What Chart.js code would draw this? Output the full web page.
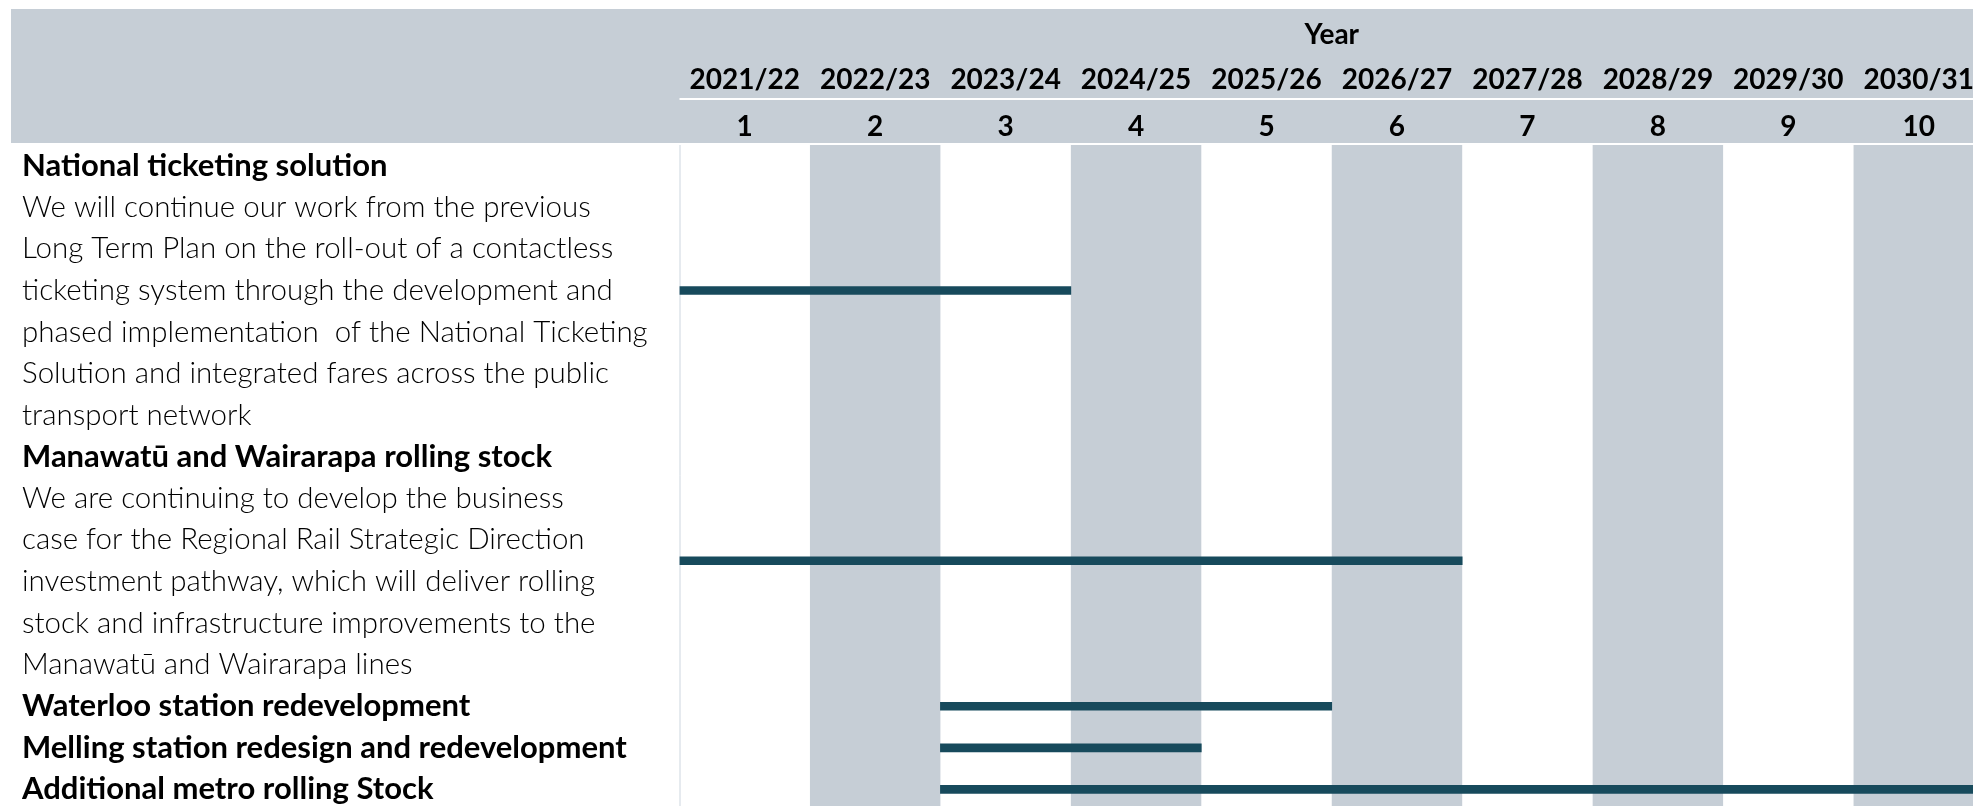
<!DOCTYPE html>
<html>
<head>
<meta charset="utf-8">
<title>Public transport projects timeline</title>
<script src="https://cdn.jsdelivr.net/npm/chart.js@4.4.1/dist/chart.umd.min.js"></script>
<style>
  html, body { margin: 0; padding: 0; background: #fff; overflow: hidden; }
  #wrap { position: relative; width: 1984px; height: 806px; }
</style>
</head>
<body>
<div id="wrap"><canvas id="timeline"></canvas></div>
<script>
const years = ['2021/22', '2022/23', '2023/24', '2024/25', '2025/26', '2026/27', '2027/28', '2028/29', '2029/30', '2030/31'];
const yearNumbers = ['1', '2', '3', '4', '5', '6', '7', '8', '9', '10'];

const tasks = [
  'National ticketing solution',
  'Manawatū and Wairarapa rolling stock',
  'Waterloo station redevelopment',
  'Melling station redesign and redevelopment',
  'Additional metro rolling Stock'
];
const taskNotes = [
  [
    'We will continue our work from the previous',
    'Long Term Plan on the roll-out of a contactless',
    'ticketing system through the development and',
    'phased implementation  of the National Ticketing',
    'Solution and integrated fares across the public',
    'transport network'
  ],
  [
    'We are continuing to develop the business',
    'case for the Regional Rail Strategic Direction',
    'investment pathway, which will deliver rolling',
    'stock and infrastructure improvements to the',
    'Manawatū and Wairarapa lines'
  ],
  [], [], []
];
// first and last year (1-10) of each piece of work
const taskStart = [1, 1, 3, 3, 3];
const taskEnd = [3, 6, 5, 4, 10];

const GREY = '#c6ced6';
const BAR = '#174a5c';
const headFont = { family: 'Lato', size: 28, weight: 'bold' };
const titleFont = { family: 'Lato', size: 31, weight: 'bold' };
const bodyFont = { family: 'Lato', size: 29.5, weight: '300' };

// every printed line on the left is a row; the bar sits in the middle of its block
const rowLabels = [];
const headingRows = new Set();
const barRows = [];
tasks.forEach((t, i) => {
  headingRows.add(rowLabels.length);
  barRows.push(rowLabels.length + taskNotes[i].length / 2);
  rowLabels.push(t);
  taskNotes[i].forEach(l => rowLabels.push(l));
});

const backdrop = {
  id: 'backdrop',
  beforeDraw(chart) {
    const { ctx, chartArea: a, scales: { x, xYears } } = chart;
    ctx.save();
    ctx.fillStyle = GREY;
    ctx.fillRect(11, xYears.top, chart.width - 11, a.top - 2 - xYears.top);
    for (let i = 1; i < years.length; i += 2) {
      const l = x.getPixelForValue(i), r = x.getPixelForValue(i + 1);
      ctx.fillRect(l, a.top, r - l, a.bottom - a.top);
    }
    ctx.fillStyle = '#fff';
    ctx.fillRect(a.left, x.top - 1, a.right - a.left, 2);
    ctx.strokeStyle = '#cdd6df';
    ctx.lineWidth = 1;
    ctx.beginPath();
    ctx.moveTo(a.left + 0.5, a.top);
    ctx.lineTo(a.left + 0.5, a.bottom);
    ctx.stroke();
    ctx.restore();
  }
};

function yearAxis(labels, weight, height, pad) {
  return {
    type: 'linear',
    position: 'top',
    min: 0,
    max: labels.length,
    weight: weight,
    grid: { display: false, drawTicks: false },
    border: { display: false },
    afterBuildTicks: s => { s.ticks = labels.map((_, i) => ({ value: i + 0.5 })); },
    afterFit: s => { s.height = height; },
    ticks: {
      autoSkip: false,
      maxRotation: 0,
      padding: pad,
      color: '#000',
      font: headFont,
      callback: (v, i) => labels[i]
    }
  };
}

const xYearsAxis = yearAxis(years, 2, 90, 2);
xYearsAxis.title = { display: true, text: 'Year', color: '#000', font: headFont, padding: { top: 9, bottom: 0 } };

new Chart(document.getElementById('timeline'), {
  type: 'bar',
  data: {
    datasets: [{
      data: tasks.map((t, i) => ({ x: [taskStart[i] - 1, taskEnd[i]], y: barRows[i] })),
      backgroundColor: BAR,
      barThickness: 8
    }]
  },
  options: {
    indexAxis: 'y',
    responsive: true,
    maintainAspectRatio: false,
    animation: false,
    layout: { padding: { left: 22, top: 9, right: 0, bottom: 0 } },
    plugins: { legend: { display: false }, tooltip: { enabled: false } },
    scales: {
      x: yearAxis(yearNumbers, 1, 46, 1),
      xYears: xYearsAxis,
      y: {
        type: 'linear',
        reverse: true,
        offset: false,
        min: -0.5,
        max: rowLabels.length - 0.6,
        grid: { display: false, drawTicks: false, offset: false },
        border: { display: false },
        afterBuildTicks: s => { s.ticks = rowLabels.map((_, i) => ({ value: i })); },
        afterFit: s => {
          s.width = 657.5;
          s.paddingTop = 0;
          s.paddingBottom = 0;
        },
        ticks: {
          autoSkip: false,
          crossAlign: 'far',
          padding: 0,
          color: '#000',
          font: c => headingRows.has(c.index) ? titleFont : bodyFont,
          callback: (v, i) => rowLabels[i]
        }
      }
    }
  },
  plugins: [backdrop]
});
</script>
</body>
</html>
